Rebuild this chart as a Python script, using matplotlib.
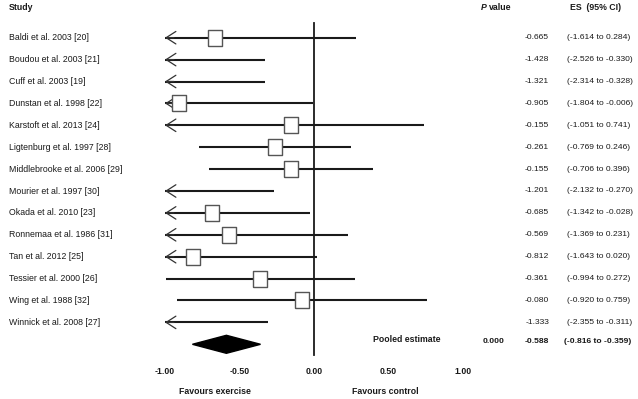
import matplotlib.pyplot as plt

studies = ['Baldi et al. 2003 [20]', 'Boudou et al. 2003 [21]', 'Cuff et al. 2003 [19]',
           'Dunstan et al. 1998 [22]', 'Karstoft et al. 2013 [24]', 'Ligtenburg et al. 1997 [28]',
           'Middlebrooke et al. 2006 [29]', 'Mourier et al. 1997 [30]', 'Okada et al. 2010 [23]',
           'Ronnemaa et al. 1986 [31]', 'Tan et al. 2012 [25]', 'Tessier et al. 2000 [26]',
           'Wing et al. 1988 [32]', 'Winnick et al. 2008 [27]']
es = [-0.665, -1.428, -1.321, -0.905, -0.155, -0.261, -0.155, -1.201, -0.685, -0.569,
      -0.812, -0.361, -0.080, -1.333]
lo = [-1.614, -2.526, -2.314, -1.804, -1.051, -0.769, -0.706, -2.132, -1.342, -1.369,
      -1.643, -0.994, -0.920, -2.355]
hi = [0.284, -0.330, -0.328, -0.006, 0.741, 0.246, 0.396, -0.270, -0.028, 0.231,
      0.020, 0.272, 0.759, -0.311]
pooled_es, pooled_lo, pooled_hi, pooled_p = -0.588, -0.816, -0.359, 0.000
ticks = [-1.00, -0.50, 0.00, 0.50, 1.00]

plt.rcParams['font.family'] = ['Liberation Sans', 'DejaVu Sans']
fs = 6.3
fs_r = 6.1   # right-hand columns, a touch smaller so the CI text fits
ink = '#1a1a1a'

W, H = 638, 399
Z, S = 314, 149   # pixel of x=0 and pixels per unit


def px(x):
    return (x - Z) / S


fig = plt.figure(figsize=(W / 100, H / 100), dpi=100)
ax = fig.add_axes([0, 0, 1, 1])
ax.axis('off')
ax.set_xlim(px(0), px(W))
ax.set_ylim(H, 0)

y0, dy = 37.7, 21.9
box = [(-0.4, -0.5), (0.4, -0.5), (0.4, 0.5), (-0.4, 0.5), (-0.4, -0.5)]

# zero line
ax.plot([0, 0], [23, 355], color=ink, lw=1.3, zorder=1)

for i, name in enumerate(studies):
    y = y0 + dy * i
    ax.text(px(9), y, name, fontsize=fs, color=ink, va='center', ha='left')
    ax.text(px(549), y, f'{es[i]:.3f}', fontsize=fs_r, color=ink, va='center', ha='right')
    ax.text(px(567), y, f'({lo[i]:.3f} to {hi[i]:.3f})', fontsize=fs_r, color=ink,
            va='center', ha='left')
    left = max(lo[i], -1.0)
    ax.plot([left, hi[i]], [y, y], color=ink, lw=1.5, zorder=2, solid_capstyle='butt')
    if lo[i] < -1.0:
        ax.annotate('', xy=(-1.0, y), xytext=(-1.0 + 0.06, y),
                    arrowprops=dict(arrowstyle='->,head_length=0.7,head_width=0.45',
                                    lw=0.9, color='#333', shrinkA=0, shrinkB=0))
    if es[i] >= -1.0:
        ax.plot(es[i], y, marker=box, ms=12, mfc='white', mec='#555', mew=1.0, zorder=3)

# pooled estimate
yd = y0 + dy * 14
ax.fill([pooled_lo, pooled_es, pooled_hi, pooled_es], [yd, yd - 9, yd, yd + 9],
        color='black', zorder=3)
ax.text(px(373), yd - 5, 'Pooled estimate', fontsize=fs, fontweight='bold', color=ink,
        va='center', ha='left')
ax.text(px(494), yd - 3, f'{pooled_p:.3f}', fontsize=fs_r, fontweight='bold', color=ink,
        va='center', ha='center')
ax.text(px(549), yd - 3, f'{pooled_es:.3f}', fontsize=fs_r, fontweight='bold', color=ink,
        va='center', ha='right')
ax.text(px(564), yd - 3, f'({pooled_lo:.3f} to {pooled_hi:.3f})', fontsize=fs_r,
        fontweight='bold', color=ink, va='center', ha='left')

# headers
ax.text(px(9), 7, 'Study', fontsize=fs, fontweight='bold', color=ink, va='center')
ax.text(px(481), 8, 'P', fontsize=fs, fontweight='bold', fontstyle='italic', color=ink, va='center')
ax.text(px(489), 8, 'value', fontsize=fs, fontweight='bold', color=ink, va='center')
ax.text(px(570), 7, 'ES  (95% CI)', fontsize=fs, fontweight='bold', color=ink, va='center')

# axis labels
for t in ticks:
    ax.text(t, 371, f'{t:.2f}', fontsize=fs, fontweight='bold', color=ink,
            va='center', ha='center')
ax.text(px(215), 392, 'Favours exercise', fontsize=fs, fontweight='bold', color=ink,
        va='center', ha='center')
ax.text(px(385), 392, 'Favours control', fontsize=fs, fontweight='bold', color=ink,
        va='center', ha='center')

fig.savefig('out.png', dpi=100)
